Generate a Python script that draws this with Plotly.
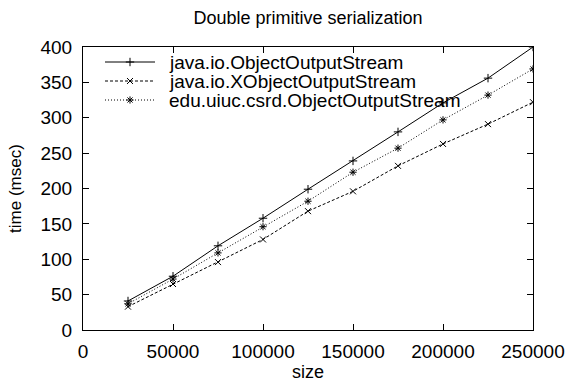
import plotly.graph_objects as go

sizes = [25000, 50000, 75000, 100000, 125000, 150000, 175000, 200000, 225000, 250000]
oos = [41, 76, 119, 158, 199, 239, 280, 321, 356, 400]
xoos = [33, 65, 96, 128, 168, 196, 232, 263, 291, 322]
csrd = [37, 72, 109, 146, 182, 223, 257, 297, 332, 369]
names = ["java.io.ObjectOutputStream", "java.io.XObjectOutputStream", "edu.uiuc.csrd.ObjectOutputStream"]
xticks = [0, 50000, 100000, 150000, 200000, 250000]
yticks = [0, 50, 100, 150, 200, 250, 300, 350, 400]

FONT = "Liberation Sans, Arial, sans-serif"
W, H = 567, 388
L, R, T, B = 83, 34, 47, 58
PW, PH = W - L - R, H - T - B

def fx(px):
    return (px - L) / PW

def fy(py):
    return (H - B - py) / PH

fig = go.Figure()
styles = [
    (oos, "solid", "cross-thin"),
    (xoos, "3px,2px", "x-thin"),
    (csrd, "1px,2px", "asterisk-open"),
]
legend_rows = [62, 81, 100]
for (ys, dash, sym), nm, row in zip(styles, names, legend_rows):
    line = dict(color="black", width=1, dash=dash)
    marker = dict(symbol=sym, size=6, color="black", line=dict(color="black", width=1))
    fig.add_trace(go.Scatter(x=sizes, y=ys, name=nm, mode="lines+markers",
                             line=line, marker=marker, showlegend=False))
    # legend sample (overlay axes in 0..1 plot-fraction space)
    fig.add_trace(go.Scatter(x=[fx(105), fx(130), fx(155)], y=[fy(row)] * 3,
                             mode="lines", line=line, xaxis="x2", yaxis="y2",
                             showlegend=False, hoverinfo="skip"))
    fig.add_trace(go.Scatter(x=[fx(130)], y=[fy(row)], mode="markers", marker=marker,
                             xaxis="x2", yaxis="y2", showlegend=False, hoverinfo="skip"))
    fig.add_annotation(text=nm, x=fx(167), y=fy(row), xref="paper", yref="paper",
                       xanchor="left", yanchor="middle", showarrow=False,
                       font=dict(family=FONT, size=19, color="black"))

axis_common = dict(
    showline=True, linecolor="black", linewidth=1, mirror="ticks", automargin=False,
    ticks="inside", ticklen=6, tickcolor="black", showgrid=False, zeroline=False,
    tickfont=dict(family=FONT, size=19, color="black"),
)
fig.update_layout(
    width=W, height=H,
    margin=dict(l=L, r=R, t=T, b=B),
    paper_bgcolor="white", plot_bgcolor="white",
    title=dict(text="Double primitive serialization", x=0.5, xref="paper", y=1 - 18 / H, yanchor="middle",
               font=dict(family=FONT, size=18, color="black"), automargin=False),
    xaxis=dict(range=[0, 250000], tickvals=xticks, ticktext=[str(v) for v in xticks],
               ticklabelstandoff=4,
               title=dict(text="size", font=dict(family=FONT, size=18, color="black"), standoff=2),
               **axis_common),
    yaxis=dict(range=[0, 400], tickvals=yticks, ticklabelstandoff=6,
               title=dict(text="time (msec)", font=dict(family=FONT, size=17, color="black"), standoff=14),
               **axis_common),
    xaxis2=dict(range=[0, 1], overlaying="x", visible=False, fixedrange=True),
    yaxis2=dict(range=[0, 1], overlaying="y", visible=False, fixedrange=True),
    showlegend=False,
)
fig.write_html("out.html")
